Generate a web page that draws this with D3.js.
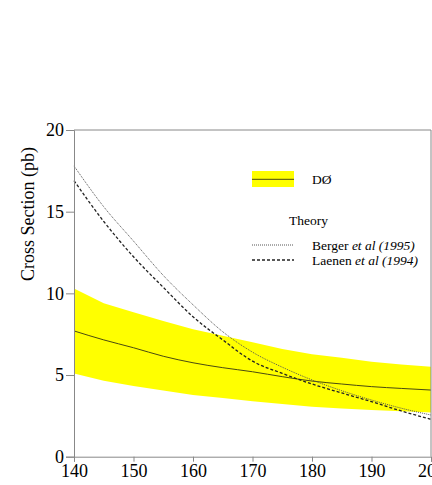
<!DOCTYPE html>
<html>
<head>
<meta charset="utf-8">
<script src="https://cdn.jsdelivr.net/npm/d3@7"></script>
<style>
  body { margin: 0; background: #fff; }
  svg text { font-family: "Liberation Serif", Tinos, "Times New Roman", Times, "DejaVu Serif", serif; fill: #000; }
</style>
</head>
<body>
<svg id="chart"></svg>
<script>
// chart data
const mass = [140, 145, 150, 155, 160, 165, 170, 175, 180, 185, 190, 195, 200];
const d0Central = [7.7, 7.15, 6.67, 6.15, 5.75, 5.45, 5.2, 4.9, 4.63, 4.45, 4.29, 4.18, 4.08];
const d0Upper = [10.3, 9.4, 8.85, 8.3, 7.8, 7.4, 7.0, 6.6, 6.27, 6.05, 5.82, 5.65, 5.5];
const d0Lower = [5.1, 4.65, 4.33, 4.05, 3.78, 3.6, 3.4, 3.22, 3.06, 2.95, 2.86, 2.78, 2.7];
const berger = [17.8, 15.3, 13.2, 11.1, 9.3, 7.65, 6.4, 5.48, 4.7, 4.04, 3.47, 2.97, 2.55];
const laenen = [16.9, 14.4, 12.24, 10.37, 8.57, 7.15, 5.85, 5.1, 4.45, 3.9, 3.37, 2.8, 2.29];
const xTicks = [140, 150, 160, 170, 180, 190, 200];
const yTicks = [0, 5, 10, 15, 20];

const serif = '"Liberation Serif", Tinos, "Times New Roman", Times, "DejaVu Serif", serif';
const width = 432, height = 485;
const svg = d3.select('#chart').attr('width', width).attr('height', height);

const x = d3.scaleLinear().domain([140, 200]).range([74, 431]);
const y = d3.scaleLinear().domain([0, 20]).range([456.7, 130]);

// yellow error band
const area = d3.area()
    .x((d, i) => x(mass[i]))
    .y0((d, i) => y(d0Lower[i]))
    .y1((d, i) => y(d0Upper[i]));
svg.append('path')
    .datum(mass)
    .attr('d', area)
    .style('fill', '#ffff00');

const line = vals => d3.line()
    .x((d, i) => x(mass[i]))
    .y((d, i) => y(vals[i]))
    .curve(d3.curveMonotoneX)(mass);

svg.append('path').attr('d', line(d0Central))
    .style('fill', 'none').style('stroke', '#4a4a10').style('stroke-width', 1);
svg.append('path').attr('d', line(berger))
    .style('fill', 'none').style('stroke', '#555').style('stroke-width', 1)
    .style('stroke-dasharray', '1,1');
svg.append('path').attr('d', line(laenen))
    .style('fill', 'none').style('stroke', '#222').style('stroke-width', 1.3)
    .style('stroke-dasharray', '3,2');

// frame (top and right)
svg.append('line').attr('x1', x(140)).attr('x2', x(200)).attr('y1', y(20)).attr('y2', y(20))
    .style('stroke', '#888');
svg.append('line').attr('x1', x(200)).attr('x2', x(200)).attr('y1', y(20)).attr('y2', y(0))
    .style('stroke', '#888');

// axes
const xAxis = d3.axisBottom(x).tickValues(xTicks).tickSize(5).tickPadding(3);
const yAxis = d3.axisLeft(y).tickValues(yTicks).tickSize(8).tickPadding(2);

const gx = svg.append('g').attr('transform', 'translate(0,' + y(0) + ')').call(xAxis);
const gy = svg.append('g').attr('transform', 'translate(' + x(140) + ',0)').call(yAxis);
[gx, gy].forEach(g => {
    g.attr('font-family', null);
    g.selectAll('path, line').style('stroke', '#888');
    g.selectAll('text').style('font-family', serif)
        .style('font-size', '18px').style('fill', '#000');
});

svg.append('text')
    .attr('transform', 'translate(34,214) rotate(-90)')
    .attr('text-anchor', 'middle')
    .style('font-size', '18px')
    .text('Cross Section (pb)');

// legend
const lg = svg.append('g');
lg.append('rect').attr('x', 252).attr('y', 171).attr('width', 42).attr('height', 16)
    .style('fill', '#ffff00');
lg.append('line').attr('x1', 252).attr('x2', 294).attr('y1', 179.3).attr('y2', 179.3)
    .style('stroke', '#4a4a10');
lg.append('text').attr('x', 312).attr('y', 184).style('font-size', '13.5px').text('DØ');
lg.append('text').attr('x', 289).attr('y', 225).style('font-size', '13.5px').text('Theory');

lg.append('line').attr('x1', 252).attr('x2', 294).attr('y1', 245).attr('y2', 245)
    .style('stroke', '#555').style('stroke-dasharray', '1,1');
lg.append('line').attr('x1', 252).attr('x2', 294).attr('y1', 260).attr('y2', 260)
    .style('stroke', '#222').style('stroke-width', 1.3).style('stroke-dasharray', '3,2');

const t1 = lg.append('text').attr('x', 312).attr('y', 249.5).style('font-size', '13.5px');
t1.append('tspan').text('Berger ');
t1.append('tspan').style('font-style', 'italic').text('et al (1995)');
const t2 = lg.append('text').attr('x', 312).attr('y', 264.5).style('font-size', '13.5px');
t2.append('tspan').text('Laenen ');
t2.append('tspan').style('font-style', 'italic').text('et al (1994)');
</script>
</body>
</html>
